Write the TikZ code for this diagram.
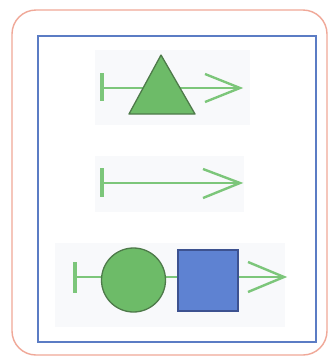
\documentclass[tikz,border=0pt]{standalone}
\usetikzlibrary{shapes.geometric}
\definecolor{salmon}{HTML}{F0A898}
\definecolor{frameblue}{HTML}{5B7CC4}
\definecolor{lgreen}{HTML}{7CC67A}
\definecolor{fgreen}{HTML}{6DBB68}
\definecolor{dgreen}{HTML}{4E7A4A}
\definecolor{sqblue}{HTML}{5E82D2}
\definecolor{dblue}{HTML}{3D5290}
\definecolor{bgpanel}{HTML}{F8F9FB}
\tikzset{
  gline/.style={draw=lgreen, line width=2.8pt},
  gbar/.style={draw=lgreen, line width=3.2pt},
  ghead/.style={draw=lgreen, line width=2.4pt, line join=miter},
  panel/.style={fill=bgpanel, draw=none},
}
\begin{document}
\begin{tikzpicture}[x=1pt,y=-1pt]
\useasboundingbox (0,0) rectangle (329,357);
\fill[white] (0,0) rectangle (329,357);
% outer rounded frame
\draw[salmon, line width=1.4pt, rounded corners=24pt] (12,10) rectangle (327,355);
% inner blue frame
\draw[frameblue, line width=2pt] (38,36) rectangle (316,342);
% faint panels
\fill[panel] (95,50) rectangle (250,125);
\fill[panel] (95,156) rectangle (244,212);
\fill[panel] (55,243) rectangle (285,327);

% top row
\coordinate (t0) at (102,88);
\coordinate (t1) at (240,88);
\draw[gbar] (102,73) -- (102,101);
\draw[gline] (t0) -- (t1);
\draw[ghead] (205,74) -- (t1) -- (205,102);
\draw[fill=fgreen, draw=dgreen, line width=1.3pt, line join=round] (161,55) -- (195,114) -- (129,114) -- cycle;

% middle row
\coordinate (m0) at (102,183);
\coordinate (m1) at (240,183);
\draw[gbar] (102,168) -- (102,197);
\draw[gline] (m0) -- (m1);
\draw[ghead] (203,169) -- (m1) -- (203,198);

% bottom row
\coordinate (b0) at (75,277);
\coordinate (b1) at (284,277);
\draw[gbar] (75,262) -- (75,293);
\draw[gline] (b0) -- (b1);
\draw[ghead] (248,262) -- (b1) -- (248,292);
\node[circle, fill=fgreen, draw=dgreen, line width=1.3pt, minimum size=64pt, inner sep=0pt] (circ) at (133.5,280) {};
\node[rectangle, fill=sqblue, draw=dblue, line width=1.3pt, minimum width=60pt, minimum height=61pt, inner sep=0pt] (sq) at (208,280.5) {};
\end{tikzpicture}
\end{document}
